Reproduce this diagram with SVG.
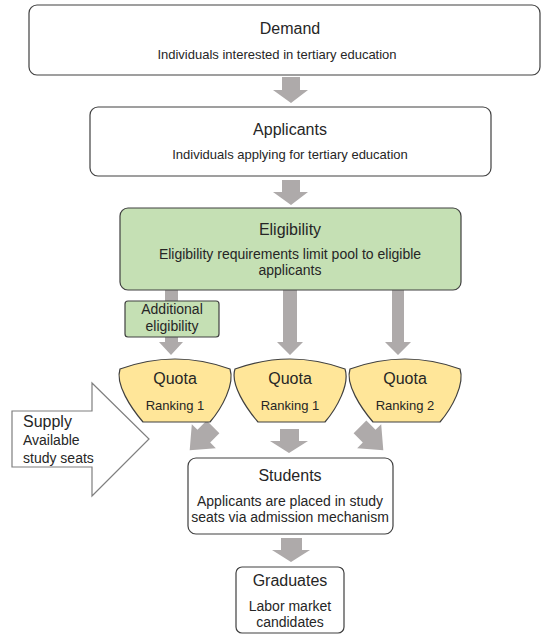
<svg xmlns="http://www.w3.org/2000/svg" width="543" height="635" viewBox="0 0 543 635">
<style>
.box{fill:#fff;stroke:#404040;stroke-width:1.2}
.green{fill:#c5e0b4;stroke:#404040;stroke-width:1.2}
.quota{fill:#ffe699;stroke:#404040;stroke-width:1.2}
.arr{fill:#aeaaaa;stroke:none}
text{font-family:"Liberation Sans",Arial,sans-serif;fill:#262626}
.t{font-size:16px;text-anchor:middle}
.s{font-size:13px;text-anchor:middle}
.m{font-size:14px;text-anchor:middle}
</style>
<defs>
<polygon id="rarr" points="-9,-17 9,-17 9,-4 17,-4 0,16 -17,-4 -9,-4"/>
</defs>
<g id="connectors">
<polygon class="arr" points="282,77 300,77 300,90 308,90 291,103 273,90 282,90"/>
<polygon class="arr" points="282,180 300,180 300,192 308,192 291,205 273,192 282,192"/>
<polygon class="arr" points="165,290 178,290 178,342 183,342 171,355 159,342 165,342"/>
<polygon class="arr" points="283,290 297,290 297,342 303,342 290,355 277,342 283,342"/>
<polygon class="arr" points="392,290 404,290 404,342 411,342 398,355 385,342 392,342"/>
<use href="#rarr" class="arr" transform="translate(201,439) rotate(45)"/>
<polygon class="arr" points="280,429 299,429 299,441 308,441 289,453 270,441 280,441"/>
<use href="#rarr" class="arr" transform="translate(372,439) rotate(-45)"/>
<polygon class="arr" points="281,538 302,538 302,550 310,550 291,562 272,550 281,550"/>
</g>
<g id="demand">
<rect class="box" x="29" y="5" width="511" height="70" rx="8"/>
<text class="t" x="290" y="34">Demand</text>
<text class="s" x="277" y="59">Individuals interested in tertiary education</text>
</g>
<g id="applicants">
<rect class="box" x="90" y="107" width="401" height="69" rx="8"/>
<text class="t" x="290" y="135">Applicants</text>
<text class="s" x="290" y="159">Individuals applying for tertiary education</text>
</g>
<g id="eligibility">
<rect class="green" x="120" y="208" width="341" height="82" rx="8"/>
<text class="t" x="290" y="235">Eligibility</text>
<text class="m" x="290" y="259">Eligibility requirements limit pool to eligible</text>
<text class="m" x="290" y="275">applicants</text>
</g>
<g id="additional">
<rect class="green" x="125" y="301" width="94" height="36" rx="3"/>
<text class="m" x="172" y="314">Additional</text>
<text class="m" x="172" y="331">eligibility</text>
</g>
<g id="quota1">
<path class="quota" d="M120,369 Q175,349 230,369 C235,384 222,408 210,422 L143,422 C131,408 115,384 120,369 Z"/>
<text class="t" x="175" y="384">Quota</text>
<text class="s" x="175" y="410">Ranking 1</text>
</g>
<g id="quota2">
<path class="quota" d="M235,369 Q290,349 345,369 C350,384 337,408 325,422 L258,422 C246,408 230,384 235,369 Z"/>
<text class="t" x="290" y="384">Quota</text>
<text class="s" x="290" y="410">Ranking 1</text>
</g>
<g id="quota3">
<path class="quota" d="M350,369 Q405,349 460,369 C465,384 452,408 440,422 L373,422 C361,408 345,384 350,369 Z"/>
<text class="t" x="405" y="384">Quota</text>
<text class="s" x="405" y="410">Ranking 2</text>
</g>
<g id="supply">
<polygon points="12,411 92,411 92,383 149,439 92,496 92,467 12,467" fill="#fff" stroke="#7f7f7f" stroke-width="1.2"/>
<text x="23" y="427" font-size="16">Supply</text>
<text x="23" y="445" font-size="14">Available</text>
<text x="23" y="463" font-size="14">study seats</text>
</g>
<g id="students">
<rect class="box" x="188" y="458" width="205" height="76" rx="8"/>
<text class="t" x="290" y="481">Students</text>
<text class="m" x="290" y="506">Applicants are placed in study</text>
<text class="m" x="290" y="522">seats via admission mechanism</text>
</g>
<g id="graduates">
<rect class="box" x="236" y="567" width="108" height="66" rx="6"/>
<text class="t" x="290" y="586">Graduates</text>
<text class="m" x="290" y="611">Labor market</text>
<text class="m" x="290" y="627">candidates</text>
</g>
</svg>
